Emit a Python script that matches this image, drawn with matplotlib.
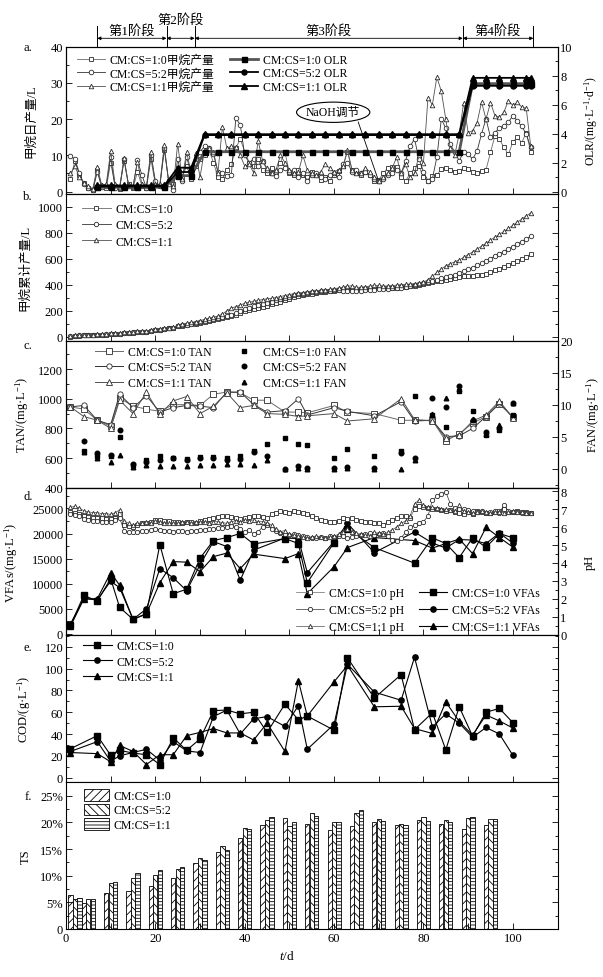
"""Six stacked panels: CH4 daily yield + OLR, cumulative CH4, TAN/FAN,
VFAs/pH, COD and TS for the three CM:CS mixing ratios."""

import matplotlib

matplotlib.use("Agg")
import matplotlib.pyplot as plt
from matplotlib.patches import Ellipse, Patch
from matplotlib.ticker import FuncFormatter, MultipleLocator

plt.rcParams["font.family"] = ["Liberation Serif", "Noto Sans CJK SC"]
plt.rcParams["mathtext.fontset"] = "custom"
plt.rcParams["mathtext.rm"] = "Liberation Serif"
plt.rcParams["mathtext.it"] = "Liberation Serif:italic"
plt.rcParams["font.size"] = 9
plt.rcParams["axes.linewidth"] = 0.8
plt.rcParams["hatch.linewidth"] = 0.6

LABELS = ["CM:CS=1:0", "CM:CS=5:2", "CM:CS=1:1"]

# ---- panel a: daily methane (L) and OLR -------------------------------------
DAYS = list(range(1, 105))
CH4_10 = [3.5, 8.5, 4.5, 2.5, 1.0, 0.5, 6.0, 1.5, 1.0, 8.0,
          1.5, 0.8, 8.5, 2.0, 1.0, 5.5, 1.5, 1.0, 9.0, 2.0,
          1.5, 11.5, 3.0, 2.0, 6.5, 4.0, 7.0, 3.5, 7.0, 9.0,
          10.0, 11.5, 8.0, 4.0, 3.5, 6.0, 7.5, 12.0, 14.5, 11.0,
          8.0, 7.0, 9.0, 6.0, 5.0, 6.5, 5.5, 8.0, 11.0, 5.0,
          4.5, 6.0, 4.5, 4.0, 5.5, 4.7, 3.3, 4.0, 2.9, 4.5,
          5.6, 7.0, 11.0, 6.0, 5.0, 4.5, 5.5, 4.7, 3.0, 3.3,
          5.0, 6.5, 6.8, 6.8, 4.0, 2.9, 5.0, 6.5, 7.0, 4.0,
          3.0, 4.3, 4.5, 6.3, 6.5, 6.0, 5.5, 5.7, 6.5, 6.2,
          5.5, 5.2, 5.7, 6.0, 10.8, 15.4, 14.5, 12.2, 10.3, 13.6,
          15.0, 13.5, 16.3, 11.0]
CH4_52 = [9.7, 9.0, 5.0, 2.0, 1.0, 0.3, 5.5, 1.2, 1.5, 9.5,
          1.0, 1.0, 9.0, 1.5, 1.2, 8.6, 4.5, 1.0, 10.0, 3.0,
          1.5, 12.0, 2.5, 0.5, 9.0, 3.0, 9.5, 5.0, 8.0, 11.0,
          12.5, 12.0, 10.5, 5.5, 5.0, 4.3, 4.5, 20.2, 18.5, 10.0,
          8.0, 9.0, 7.0, 8.5, 6.0, 5.0, 4.2, 6.0, 6.5, 5.5,
          6.0, 4.0, 5.0, 3.0, 4.5, 5.0, 4.0, 3.5, 4.5, 5.0,
          4.0, 7.5, 8.0, 5.5, 6.0, 5.0, 5.5, 4.5, 3.5, 2.8,
          3.5, 4.5, 5.0, 6.0, 5.0, 8.5, 12.5, 14.5, 9.0, 5.5,
          3.0, 3.5, 9.5, 20.0, 17.5, 13.0, 11.0, 8.5, 11.0, 10.3,
          9.0, 11.2, 15.9, 20.1, 15.0, 16.3, 17.5, 18.2, 19.1, 21.0,
          19.5, 18.0, 15.9, 12.2]
CH4_11 = [5.0, 7.0, 4.0, 2.5, 1.5, 0.8, 6.7, 1.8, 2.0, 11.2,
          2.0, 1.2, 9.3, 1.8, 1.5, 8.3, 2.0, 1.5, 11.0, 2.0,
          2.0, 12.8, 2.0, 1.5, 13.2, 3.5, 11.0, 5.0, 10.7, 4.0,
          11.5, 12.0, 11.0, 5.2, 17.8, 12.0, 12.5, 12.3, 10.0, 7.0,
          7.5, 5.2, 14.0, 8.5, 6.5, 5.2, 6.0, 10.0, 8.0, 6.0,
          5.0, 5.3, 10.0, 6.0, 5.0, 4.5, 5.5, 7.5, 6.5, 5.5,
          6.0, 7.0, 11.5, 6.0, 5.0, 5.0, 6.5, 5.5, 4.0, 3.0,
          4.0, 5.0, 6.5, 9.5, 5.0, 7.5, 4.0, 5.0, 10.0, 8.0,
          25.8, 24.0, 31.6, 27.7, 20.0, 12.0, 10.0, 16.0, 24.5, 16.3,
          16.8, 19.0, 24.7, 20.0, 24.5, 21.0, 20.5, 21.9, 25.1, 23.8,
          24.7, 23.3, 23.0, 12.6]

OLR_DAYS = [7, 10, 13, 16, 19, 22, 25, 28, 31, 34, 37, 40, 43, 46, 49, 52, 55,
            58, 61, 64, 67, 70, 73, 76, 79, 82, 85, 88, 91, 94, 97, 100, 103, 104]
OLR_10 = [0.30] * 6 + [1.10] * 2 + [2.75] * 20 + [7.45] * 6
OLR_52 = [0.35] * 6 + [1.35] * 2 + [3.90] * 20 + [7.30] * 6
OLR_11 = [0.42] * 6 + [1.65] * 2 + [3.96] * 20 + [7.85] * 6

STAGE_EDGES = [7, 22.5, 28.8, 88.8, 104.6]
STAGE_NAMES = ["第1阶段", "第2阶段", "第3阶段", "第4阶段"]

# ---- panel b: cumulative methane (L) ----------------------------------------
CUM_10 = [3, 7, 9, 11, 12, 12, 14, 15, 16, 21,
          22, 23, 28, 30, 31, 35, 37, 38, 45, 52,
          54, 62, 65, 67, 80, 86, 92, 96, 102, 108,
          115, 122, 130, 140, 147, 155, 163, 172, 184, 197,
          205, 213, 221, 230, 240, 250, 260, 270, 282, 294,
          305, 313, 320, 327, 333, 339, 343, 347, 351, 355,
          358, 360, 366, 362, 364, 366, 368, 370, 371, 372,
          374, 376, 376, 378, 380, 382, 388, 394, 400, 408,
          414, 420, 426, 433, 440, 447, 454, 460, 465, 468,
          471, 474, 477, 486, 498, 511, 524, 538, 552, 566,
          582, 599, 617, 636]
CUM_52 = [5, 10, 13, 14, 15, 15, 17, 18, 19, 24,
          25, 26, 31, 33, 34, 38, 40, 41, 48, 54,
          56, 64, 66, 67, 82, 88, 95, 99, 105, 111,
          119, 127, 136, 145, 151, 160, 170, 185, 200, 214,
          225, 234, 242, 250, 260, 270, 280, 290, 300, 310,
          320, 326, 332, 338, 343, 347, 350, 353, 356, 358,
          360, 356, 352, 350, 352, 356, 360, 362, 364, 366,
          368, 370, 372, 374, 378, 384, 390, 396, 404, 412,
          420, 432, 440, 452, 460, 468, 479, 491, 504, 518,
          533, 549, 566, 583, 601, 619, 637, 656, 675, 694,
          713, 733, 753, 773]
CUM_11 = [5, 11, 14, 16, 17, 17, 19, 20, 21, 27,
          28, 29, 34, 36, 37, 42, 44, 45, 52, 58,
          60, 70, 72, 74, 90, 97, 106, 111, 118, 125,
          134, 143, 152, 160, 175, 200, 220, 232, 245, 258,
          266, 272, 280, 287, 292, 296, 302, 310, 318, 325,
          332, 336, 341, 346, 350, 355, 358, 362, 366, 370,
          376, 382, 390, 392, 380, 382, 385, 390, 395, 396,
          390, 392, 394, 398, 402, 404, 406, 410, 414, 420,
          440, 465, 495, 522, 545, 562, 577, 590, 612, 632,
          652, 674, 697, 720, 744, 766, 788, 810, 833, 857,
          881, 905, 929, 952]

# ---- panel c: TAN and FAN (mg/L) --------------------------------------------
TAN_DAYS = [1, 4, 7, 10, 12, 15, 18, 21, 24, 27, 30, 33, 36, 39, 42, 45,
            49, 52, 54, 60, 63, 69, 75, 78, 82, 85, 88, 91, 94, 97, 100]
TAN_10 = [945, 930, 855, 815, 1005, 950, 930, 915, 960, 960, 955, 1030, 1045, 1040, 990, 990,
          910, 910, 905, 955, 910, 900, 855, 855, 855, 715, 765, 835, 880, 965, 880]
TAN_52 = [945, 955, 855, 825, 1030, 940, 1020, 910, 940, 955, 950, 940, 1045, 1045, 960, 910,
          920, 1000, 890, 940, 915, 885, 980, 850, 855, 745, 750, 800, 880, 970, 875]
TAN_11 = [945, 880, 855, 800, 990, 900, 1045, 895, 985, 1015, 900, 950, 1040, 940, 955, 900,
          895, 880, 885, 900, 850, 865, 1000, 860, 850, 735, 755, 850, 890, 985, 870]
FAN_DAYS = TAN_DAYS[1:]
FAN_10 = [2.8, 2.0, 2.0, 4.9, 0.6, 1.3, 2.0, 1.7, 1.5, 1.8, 1.8, 1.6, 2.0, 2.7, 3.9,
          4.8, 3.9, 3.7, 1.7, 3.0, 2.0, 2.7, 11.4, 8.4, 6.5, 12.2, 9.0, 5.3, 6.1, 8.4]
FAN_52 = [4.3, 2.4, 2.1, 6.1, 0.7, 1.1, 1.4, 1.6, 1.4, 1.7, 1.7, 1.4, 1.5, 2.6, 2.0,
          0.0, 0.4, 0.1, 0.1, 0.2, 0.1, 2.4, 1.6, 11.1, 9.6, 13.0, 7.6, 5.8, 6.4, 10.2]
FAN_11 = [2.6, 1.6, 1.1, 2.2, 0.3, 0.6, 0.4, 0.4, 0.4, 0.5, 0.5, 0.8, 0.8, 0.6, 1.3,
          0.0, 0.1, 0.0, 0.0, 0.1, 0.0, 0.0, 1.4, 8.6, 11.0, 12.4, 7.8, 5.5, 6.8, 10.3]

# ---- panel d: pH (daily) and VFAs (mg/L) -------------------------------------
PH_10 = [6.85, 6.8, 6.75, 6.6, 6.55, 6.5, 6.5, 6.5, 6.45, 6.45,
         6.5, 6.7, 6.1, 6.05, 6.0, 6.1, 6.2, 6.25, 6.3, 6.4,
         6.4, 6.35, 6.35, 6.3, 6.3, 6.25, 6.3, 6.3, 6.25, 6.35,
         6.4, 6.45, 6.5, 6.55, 6.6, 6.6, 6.55, 6.5, 6.45, 6.5,
         6.55, 6.6, 6.6, 6.55, 6.5, 6.7, 6.8, 6.9, 6.85, 6.8,
         6.9, 6.85, 6.8, 6.75, 6.6, 6.5, 6.4, 6.35, 6.3, 6.3,
         6.35, 6.5, 6.45, 6.5, 6.4, 6.35, 6.3, 6.3, 6.2, 6.25,
         6.1, 6.3, 6.4, 6.5, 6.6, 6.6, 6.5, 7.0, 7.15, 7.1,
         7.05, 7.0, 7.0, 6.95, 6.9, 6.95, 6.85, 6.8, 6.75, 6.85,
         6.75, 6.9, 6.85, 6.8, 6.8, 6.85, 6.9, 7.0, 6.85, 6.85,
         6.9, 6.85, 6.85, 6.8]
PH_52 = [6.7, 6.65, 6.6, 6.45, 6.4, 6.35, 6.35, 6.3, 6.3, 6.3,
         6.4, 6.5, 5.8, 5.75, 5.7, 5.75, 5.8, 5.8, 5.85, 5.9,
         5.85, 5.8, 5.8, 5.75, 5.8, 5.8, 5.75, 5.8, 5.8, 5.85,
         5.85, 5.9, 5.9, 5.95, 5.95, 6.0, 6.05, 6.0, 5.9, 5.7,
         5.85, 5.6, 5.75, 6.0, 6.1, 5.9, 5.8, 5.65, 5.6, 5.55,
         5.6, 5.55, 5.5, 5.45, 5.4, 5.4, 5.45, 5.4, 5.5, 5.45,
         5.5, 5.5, 5.4, 5.45, 5.5, 5.55, 5.6, 5.65, 5.55, 5.6,
         5.65, 5.5, 5.3, 5.25, 5.4, 5.7, 6.0, 6.1, 6.2, 6.3,
         6.6, 7.5, 7.7, 7.85, 7.95, 7.3, 7.05, 7.0, 7.0, 6.95,
         6.9, 6.85, 6.9, 6.8, 6.85, 6.9, 6.8, 7.2, 6.9, 6.85,
         6.85, 6.8, 6.8, 6.8]
PH_11 = [7.1, 7.15, 7.05, 6.9, 6.85, 6.8, 6.8, 6.75, 6.75, 6.7,
         6.8, 6.95, 6.35, 6.2, 6.1, 6.2, 6.25, 6.3, 6.25, 6.35,
         6.3, 6.25, 6.2, 6.25, 6.2, 6.3, 6.3, 6.25, 6.3, 6.3,
         6.3, 6.25, 6.3, 6.3, 6.25, 6.2, 6.3, 6.35, 6.3, 6.4,
         6.35, 6.4, 6.3, 6.3, 6.25, 6.1, 5.9, 5.75, 5.8, 5.6,
         5.55, 5.5, 5.45, 5.4, 5.45, 5.5, 5.45, 5.4, 5.45, 5.5,
         5.6, 5.75, 5.9, 5.7, 5.65, 5.6, 5.55, 5.5, 5.7, 5.65,
         5.6, 5.7, 5.85, 6.0, 6.2, 6.35, 6.6, 7.3, 7.5, 7.2,
         7.1, 7.1, 7.05, 7.0, 7.0, 6.95, 6.9, 7.2, 6.9, 6.85,
         6.8, 6.85, 6.9, 6.85, 6.8, 6.85, 6.85, 6.8, 6.85, 6.9,
         6.85, 6.85, 6.8, 6.8]
VFA_DAYS = [1, 4, 7, 10, 12, 15, 18, 21, 24, 27, 30, 33, 36, 39, 42,
            49, 52, 54, 60, 63, 69, 78, 82, 85, 88, 91, 94, 97, 100]
VFA_10 = [1700, 7700, 6500, 11000, 5300, 2900, 4000, 17800, 8000, 8900, 15100, 18600, 19200, 20000, 17900,
          19000, 18000, 10200, 18200, 21000, 17200, 14100, 19150, 18000, 15200, 19150, 17250, 20000, 19150]
VFA_52 = [2000, 7000, 6800, 10500, 9200, 2900, 5000, 13000, 11200, 8600, 13800, 18400, 17400, 10700, 16700,
          19100, 19000, 12200, 18400, 22000, 16200, 20300, 18100, 17100, 18800, 18700, 18000, 20100, 18100]
VFA_11 = [1500, 7000, 7000, 12200, 9700, 2900, 4000, 10200, 14400, 14300, 12400, 15400, 16100, 13000, 15900,
          15000, 16000, 8000, 13400, 17200, 19200, 18600, 17100, 18000, 18900, 16000, 21200, 19200, 17300]

# ---- panel e: COD (g/L) -----------------------------------------------------
COD_DAYS = [1, 7, 10, 12, 15, 18, 21, 24, 27, 30, 33, 36, 39, 42, 45,
            49, 52, 54, 60, 63, 69, 75, 78, 82, 85, 88, 91, 94, 97, 100]
COD_10 = [26.5, 38.5, 20.5, 25, 22.5, 21, 12, 36.5, 25, 35.5, 61.5, 62, 58.5, 60, 41.5,
          67.5, 53, 56.5, 43.5, 110, 73, 94.5, 44, 59.5, 25.5, 65, 38, 60, 63.5, 50.5]
COD_52 = [24, 33, 15, 20, 23, 26, 16, 33, 24.5, 23, 56, 62, 40, 54, 56,
          47, 66, 26, 49, 104, 78.5, 71, 110.5, 46.5, 58.5, 50, 37, 46, 40, 20.5]
COD_11 = [23, 22, 14.5, 29.5, 24, 12, 21, 21, 38.5, 41.5, 45, 41, 41, 34.5, 50,
          24, 89, 56.5, 88, 103, 65, 65.5, 45, 40.5, 69.5, 51.5, 39, 57.5, 52, 45.5]

# ---- panel f: TS (%) --------------------------------------------------------
TS_DAYS = [2, 5, 10, 15, 20, 25, 30, 35, 40, 45, 50, 55, 60, 65, 70, 75, 80, 85, 90, 95]
TS_10 = [6.4, 4.9, 6.7, 7.2, 8.0, 9.5, 12.3, 14.4, 17.1, 19.6,
         20.8, 19.8, 18.5, 19.4, 20.1, 19.5, 20.4, 19.8, 18.7, 19.6]
TS_52 = [5.6, 5.7, 8.6, 9.6, 10.1, 11.2, 13.4, 15.6, 19.0, 20.5,
         19.3, 21.7, 20.1, 21.7, 20.7, 19.8, 21.1, 20.4, 20.9, 20.7]
TS_11 = [5.9, 5.6, 8.9, 10.5, 11.0, 11.6, 13.0, 14.9, 18.7, 21.1,
         20.0, 21.3, 20.0, 22.3, 20.2, 19.6, 20.2, 20.0, 21.1, 20.7]

# ---- layout (pixels of the 603x978 figure) ----------------------------------
FIG_W, FIG_H = 603, 978
AX_LEFT, AX_RIGHT = 66, 557.5
AX_TOP, PANEL_H = 47.7, 147.05
MARKERS = ["s", "o", "^"]
OPEN_COLORS = ["#6a6a6a", "#333333", "#505050"]


def panel_rect(i):
    top = AX_TOP + i * PANEL_H
    return [AX_LEFT / FIG_W, 1 - (top + PANEL_H) / FIG_H,
            (AX_RIGHT - AX_LEFT) / FIG_W, PANEL_H / FIG_H]


def style_axis(ax, ymajor, yminor, right_ticks=True):
    ax.set_xlim(0, 110)
    ax.xaxis.set_major_locator(MultipleLocator(20))
    ax.xaxis.set_minor_locator(MultipleLocator(10))
    ax.yaxis.set_major_locator(MultipleLocator(ymajor))
    ax.yaxis.set_minor_locator(MultipleLocator(yminor))
    ax.tick_params(which="both", direction="in", labelsize=9, width=0.6, pad=2)
    ax.tick_params(axis="x", which="both", length=4, labelbottom=False)
    ax.tick_params(axis="y", which="major", length=4)
    ax.tick_params(axis="y", which="minor", length=2)
    ax.tick_params(axis="y", which="both", right=right_ticks)


def style_twin(ax, ymajor, yminor):
    ax.yaxis.set_major_locator(MultipleLocator(ymajor))
    ax.yaxis.set_minor_locator(MultipleLocator(yminor))
    ax.tick_params(which="both", direction="in", labelsize=9, width=0.6, pad=2)
    ax.tick_params(axis="y", which="major", length=4)
    ax.tick_params(axis="y", which="minor", length=2)


def open_line(ax, x, y, k, ms=3.3, lw=0.6):
    return ax.plot(x, y, color=OPEN_COLORS[k], lw=lw, marker=MARKERS[k], ms=ms,
                   mfc="white", mec="#2a2a2a", mew=0.6)[0]


def legend(ax, handles, labels, anchor, loc="upper left", ncol=1, **kw):
    opts = dict(loc=loc, bbox_to_anchor=anchor, frameon=False, ncol=ncol, fontsize=8.5,
                borderpad=0, borderaxespad=0, handlelength=2.4, handletextpad=0.4,
                labelspacing=0.2, columnspacing=1.2)
    opts.update(kw)
    return ax.legend(handles, labels, **opts)


fig = plt.figure(figsize=(FIG_W / 100, FIG_H / 100), dpi=100)
axes = [fig.add_axes(panel_rect(i)) for i in range(6)]
ax_a, ax_b, ax_c, ax_d, ax_e, ax_f = axes

# ---- a ----------------------------------------------------------------------
style_axis(ax_a, 10, 5, right_ticks=False)
ax_a.set_ylim(-0.6, 40)
h_ch4 = [open_line(ax_a, DAYS, s, k) for k, s in enumerate([CH4_10, CH4_52, CH4_11])]
ax_a2 = ax_a.twinx()
ax_a2.set_ylim(-0.15, 10)
style_twin(ax_a2, 2, 1)
h_olr = [
    ax_a2.plot(OLR_DAYS, OLR_10, color="#555555", lw=2.0, marker="s", ms=3.6, mfc="black", mec="black")[0],
    ax_a2.plot(OLR_DAYS, OLR_52, color="black", lw=1.3, marker="o", ms=3.6, mfc="black", mec="black")[0],
    ax_a2.plot(OLR_DAYS, OLR_11, color="black", lw=1.3, marker="^", ms=3.8, mfc="black", mec="black")[0],
]
ax_a.set_ylabel("甲烷日产量/L", fontsize=9)
ax_a.yaxis.set_label_coords(-0.059, 0.5)
ax_a2.set_ylabel("OLR/(mg·L$^{-1}$·d$^{-1}$)", fontsize=8.5)
ax_a2.yaxis.set_label_coords(1.05, 0.5)
legend(ax_a2, h_ch4 + h_olr,
       [lab + "甲烷产量" for lab in LABELS] + [lab + " OLR" for lab in LABELS],
       (0.022, 0.95), ncol=2, labelspacing=0.12, columnspacing=1.3)

# stage brackets above panel a
px_per_unit = PANEL_H / 40.6
for x in STAGE_EDGES:
    ax_a.plot([x, x], [40, 40 + 21 / px_per_unit], color="black", lw=0.7, clip_on=False)
y_arrow = 40 + 8.4 / px_per_unit
for k, name in enumerate(STAGE_NAMES):
    x0, x1 = STAGE_EDGES[k], STAGE_EDGES[k + 1]
    ax_a.annotate("", xy=(x1, y_arrow), xytext=(x0, y_arrow), annotation_clip=False,
                  arrowprops=dict(arrowstyle="<|-|>", lw=0.6, color="black",
                                  mutation_scale=5, shrinkA=0, shrinkB=0))
    y_txt = 40 + (27.7 if k == 1 else 16) / px_per_unit
    ax_a.text((x0 + x1) / 2, y_txt, name, ha="center", va="center", fontsize=9.5, clip_on=False)

ax_a.add_patch(Ellipse((59.8, 21.9), 16.4, 5.6, fill=False, lw=0.8, ec="black"))
ax_a.text(59.8, 21.9, "NaOH调节", ha="center", va="center", fontsize=8.5)
ax_a.plot([65.4, 69.8], [19.2, 3.5], color="black", lw=0.6)

# ---- b ----------------------------------------------------------------------
style_axis(ax_b, 200, 100)
ax_b.set_ylim(-30, 1100)
h_b = [open_line(ax_b, DAYS, s, k, ms=3.2) for k, s in enumerate([CUM_10, CUM_52, CUM_11])]
ax_b.set_ylabel("甲烷累计产量/L", fontsize=9)
ax_b.yaxis.set_label_coords(-0.071, 0.5)
legend(ax_b, h_b, LABELS, (0.033, 0.935), labelspacing=0.35)

# ---- c ----------------------------------------------------------------------
style_axis(ax_c, 200, 100, right_ticks=False)
ax_c.set_ylim(400, 1390)
h_tan = [open_line(ax_c, TAN_DAYS, s, k, ms=3.8, lw=0.7) for k, s in enumerate([TAN_10, TAN_52, TAN_11])]
ax_c2 = ax_c.twinx()
ax_c2.set_ylim(-3, 20)
style_twin(ax_c2, 5, 2.5)
h_fan = [ax_c2.plot(FAN_DAYS, s, ls="none", marker=MARKERS[k], ms=3.3, color="black")[0]
         for k, s in enumerate([FAN_10, FAN_52, FAN_11])]
ax_c.set_ylabel("TAN/(mg·L$^{-1}$)", fontsize=9)
ax_c.yaxis.set_label_coords(-0.071, 0.5)
ax_c2.set_ylabel("FAN/(mg·L$^{-1}$)", fontsize=9)
ax_c2.yaxis.set_label_coords(1.055, 0.5)
legend(ax_c2, h_tan + h_fan, [lab + " TAN" for lab in LABELS] + [lab + " FAN" for lab in LABELS],
       (0.058, 0.965), ncol=2, labelspacing=0.3, columnspacing=1.6)

# ---- d ----------------------------------------------------------------------
style_axis(ax_d, 5000, 2500, right_ticks=False)
ax_d.set_ylim(-200, 29100)
h_vfa = [ax_d.plot(VFA_DAYS, s, color="black", lw=0.8, marker=MARKERS[k], ms=3.8)[0]
         for k, s in enumerate([VFA_10, VFA_52, VFA_11])]
ax_d2 = ax_d.twinx()
ax_d2.set_ylim(0, 8.18)
style_twin(ax_d2, 1, 0.5)
h_ph = [open_line(ax_d2, DAYS, s, k, ms=3.1, lw=0.5) for k, s in enumerate([PH_10, PH_52, PH_11])]
ax_d.set_ylabel("VFAs/(mg·L$^{-1}$)", fontsize=9)
ax_d.yaxis.set_label_coords(-0.094, 0.5)
ax_d2.set_ylabel("pH", fontsize=9)
ax_d2.yaxis.set_label_coords(1.054, 0.5)
legend(ax_d2, h_ph + h_vfa, [lab + " pH" for lab in LABELS] + [lab + " VFAs" for lab in LABELS],
       (0.963, 0.01), loc="lower right", ncol=2, labelspacing=0.45, columnspacing=1.2)

# ---- e ----------------------------------------------------------------------
style_axis(ax_e, 20, 10)
ax_e.set_ylim(-4, 131)
h_e = [ax_e.plot(COD_DAYS, s, color="black", lw=0.8, marker=MARKERS[k], ms=3.8)[0]
       for k, s in enumerate([COD_10, COD_52, COD_11])]
ax_e.set_ylabel("COD/(g·L$^{-1}$)", fontsize=9)
ax_e.yaxis.set_label_coords(-0.067, 0.5)
legend(ax_e, h_e, LABELS, (0.035, 0.965), labelspacing=0.3)

# ---- f ----------------------------------------------------------------------
style_axis(ax_f, 5, 2.5)
ax_f.set_ylim(0, 27.6)
ax_f.tick_params(axis="x", labelbottom=True)
ax_f.yaxis.set_major_formatter(FuncFormatter(lambda v, _: "0" if v == 0 else f"{v:.0f}%"))
hatches = ["////", "\\\\\\\\", "-----"]
for k, series in enumerate([TS_10, TS_52, TS_11]):
    ax_f.bar([d + (k - 1) for d in TS_DAYS], series, width=0.95, color="white",
             edgecolor="black", linewidth=0.6, hatch=hatches[k])
ax_f.set_ylabel("TS", fontsize=9)
ax_f.yaxis.set_label_coords(-0.07, 0.5)
h_f = [Patch(facecolor="white", edgecolor="black", linewidth=0.6, hatch=h) for h in hatches]
legend(ax_f, h_f, LABELS, (0.037, 0.95), handlelength=2.1, handleheight=1.1, labelspacing=0.15)

# panel letters and x label
for letter, ypx in zip("abcdef", [48, 196.7, 346, 496.7, 648.3, 796.7]):
    fig.text(28 / FIG_W, 1 - ypx / FIG_H, letter + ".", ha="center", va="center", fontsize=9)
fig.text(287 / FIG_W, 1 - 957 / FIG_H, "$t$/d", ha="center", va="center", fontsize=9.5)

fig.savefig("out.png", dpi=100)
